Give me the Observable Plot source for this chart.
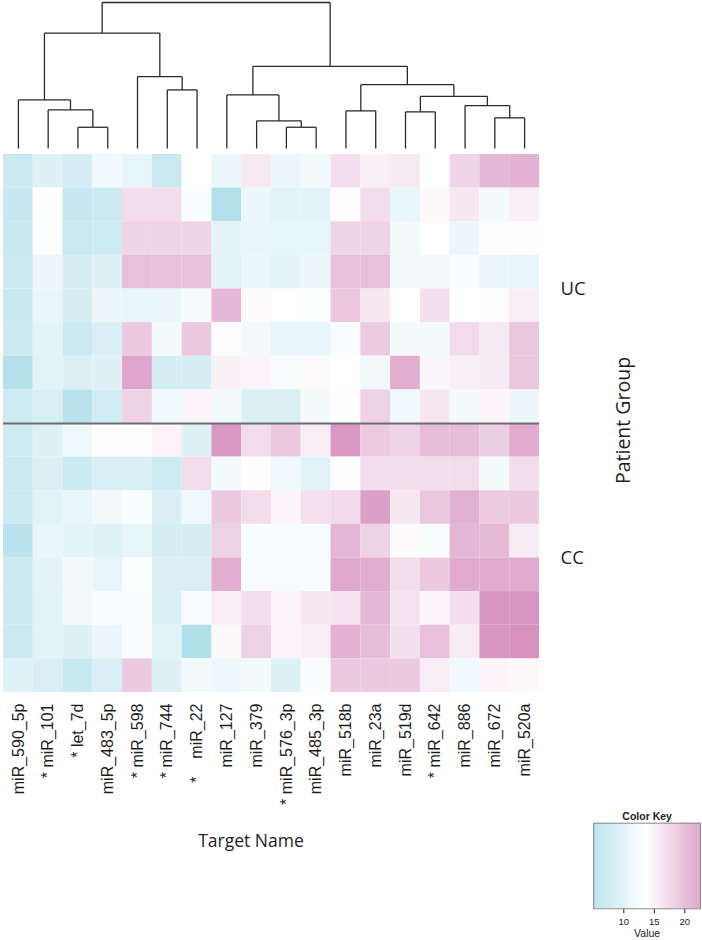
<!DOCTYPE html>
<html><head><meta charset="utf-8">
<script src="https://cdn.jsdelivr.net/npm/d3@7"></script>
<script src="https://cdn.jsdelivr.net/npm/@observablehq/plot@0.6"></script>
<style>
html,body{margin:0;padding:0;background:#fff;}
#root{position:relative;width:702px;height:940px;overflow:hidden;background:#fff;}
#root > *{position:absolute;}
.lbl{font-family:"Open Sans",sans-serif;color:#1e1e1e;line-height:1;white-space:nowrap;}
</style></head><body><div id="root"></div>
<script>
// ---------- data ----------
const targets = ["miR_590_5p","miR_101","let_7d","miR_483_5p","miR_598","miR_744","miR_22","miR_127","miR_379","miR_576_3p","miR_485_3p","miR_518b","miR_23a","miR_519d","miR_642","miR_886","miR_672","miR_520a"];
const tickLabels = ["miR_590_5p","*\u00a0miR_101","*\u00a0let_7d","miR_483_5p","*\u00a0miR_598","*\u00a0miR_744","*\u00a0\u00a0\u00a0\u00a0miR_22","miR_127","miR_379","*\u00a0miR_576_3p","miR_485_3p","miR_518b","miR_23a","miR_519d","*\u00a0miR_642","miR_886","miR_672","miR_520a"];
const groupNames = ["UC","CC"];
const ucValues = [
 [8.5,10.5,9.5,12.3,11.3,8.5,13.9,11.8,15.5, 11.8,12.6,16.2,15.0,15.5,13.8,17.0,19.2,19.6],
 [8.2,14.0,8.2,8.8,16.4,16.4,13.3,6.2,11.8, 11.0,11.0,14.0,16.4,11.5,14.3,15.6,12.8,15.0],
 [8.4,13.4,8.5,8.9,17.0,17.0,17.0,11.0,11.6, 11.3,11.3,17.0,17.0,12.6,13.9,11.8,14.0,14.0],
 [8.6,12.0,9.6,10.5,18.5,18.5,18.5,11.0,11.9, 11.0,11.9,18.5,18.5,12.4,12.7,13.3,11.9,11.6],
 [8.4,11.5,9.6,11.9,11.5,11.9,12.9,19.1,14.1, 13.9,13.5,18.0,15.6,13.8,16.2,13.9,14.0,15.2],
 [8.6,11.0,8.5,10.0,17.8,12.5,17.8,14.0,12.7, 11.6,11.6,13.1,17.7,12.8,12.7,16.5,15.5,18.0],
 [6.4,10.8,10.3,10.5,20.6,9.6,9.6,14.9,14.6, 13.2,14.2,13.9,12.4,19.9,14.4,15.0,15.4,18.0],
 [9.0,9.9,7.0,9.3,17.2,12.3,14.6,12.6,10.2, 10.2,12.8,14.0,17.3,12.2,15.6,12.7,14.5,11.9]
];
const ccValues = [
 [9.0,10.5,12.2,14.0,14.0,14.7,10.5,21.5,16.5, 17.8,15.2,21.5,17.7,17.1,18.8,18.8,17.4,20.0],
 [8.6,10.2,8.7,9.9,9.9,9.0,16.4,12.5,14.0, 12.3,10.9,14.0,16.4,16.4,16.4,16.4,12.7,16.4],
 [8.8,10.9,11.6,12.4,13.3,10.0,12.2,17.8,16.4, 14.5,16.1,16.6,21.0,15.6,18.0,19.7,17.7,17.8],
 [7.0,11.6,11.0,10.6,11.3,9.6,9.6,17.3,13.3, 13.0,13.2,19.3,17.1,14.1,13.3,19.3,19.0,15.3],
 [8.6,11.0,12.4,11.6,13.4,10.0,10.0,19.9,13.2, 13.2,13.3,20.3,19.9,16.3,17.8,20.1,20.1,20.1],
 [8.6,10.9,12.4,13.2,13.2,9.9,13.2,15.2,16.3, 14.6,15.6,15.9,19.1,16.0,14.6,16.3,21.9,21.9],
 [8.6,10.9,10.5,11.8,13.3,10.8,6.0,14.3,17.3, 14.6,15.0,19.6,18.7,16.2,18.5,15.3,21.7,22.0],
 [10.6,10.0,8.4,10.0,17.8,10.4,12.6,12.1,12.6, 10.5,13.3,17.8,17.8,17.8,15.2,12.3,14.6,14.3]
];
// column dendrogram (hclust-style merges: negative = leaf, positive = earlier merge), heights
const dendroMerges = [
 [-3,-4,2.13],[-2,1,3.87],[-1,2,4.87],[-6,-7,5.87],[-5,4,7.20],[3,5,11.57],
 [-10,-11,2.13],[-9,7,2.77],[-8,8,5.37],[-12,-13,3.77],[-14,-15,3.67],[-17,-18,3.07],
 [-16,12,4.30],[11,13,5.23],[10,14,6.40],[9,15,8.23],[6,16,14.63]
];
const keyDomain = [5.08, 22.57];
const keyTicks = [10, 15, 20];
const keyColors = ["#a8dbe8", "#ffffff", "#d48abc"];

// ---------- build ----------
const root = document.getElementById("root");
const groups = [{name: groupNames[0], values: ucValues}, {name: groupNames[1], values: ccValues}];
const cells = [];
let r = 0;
const groupInfo = [];
groups.forEach(g => {
  groupInfo.push({name: g.name, start: r, mid: r + g.values.length / 2});
  g.values.forEach(row => { row.forEach((v, c) => cells.push({row: r, col: c, value: v, group: g.name})); r++; });
});
const nRows = r;
const colorScale = {type: "linear", domain: [keyDomain[0], (keyDomain[0]+keyDomain[1])/2, keyDomain[1]], range: keyColors, interpolate: "rgb"};

const W = 702, L = 3, R = 163;

// dendrogram
const nodes = [];
const pos = id => id < 0 ? {x: -id - 1 + 0.5, h: 0} : nodes[id - 1];
const segs = [];
dendroMerges.forEach(([a, b, h]) => {
  const A = pos(a), B = pos(b);
  segs.push({x1: A.x, y1: A.h, x2: A.x, y2: h}, {x1: B.x, y1: B.h, x2: B.x, y2: h}, {x1: A.x, y1: h, x2: B.x, y2: h});
  nodes.push({x: (A.x + B.x) / 2, h});
});
const dendro = Plot.plot({
  width: W, height: 150, marginLeft: L, marginRight: R, marginTop: 2, marginBottom: 2,
  style: {background: "transparent"},
  x: {domain: [0, targets.length], axis: null},
  y: {domain: [0, d3.max(dendroMerges, d => d[2])], axis: null},
  marks: [Plot.link(segs, {x1: "x1", y1: "y1", x2: "x2", y2: "y2", stroke: "#2a2a2a", strokeWidth: 1.3})]
});
dendro.style.left = "0px"; dendro.style.top = "0px";
root.appendChild(dendro);

// heatmap
const heat = Plot.plot({
  width: W, height: 680, marginLeft: L, marginRight: R, marginTop: 4, marginBottom: 138,
  style: {background: "transparent", fontFamily: "'Liberation Sans', Arial, sans-serif", fontSize: "16px", color: "#1e1e1e"},
  x: {domain: [0, targets.length], ticks: targets.map((d, i) => i + 0.5), tickFormat: v => tickLabels[Math.round(v - 0.5)], tickRotate: -90, tickSize: 0, tickPadding: 11, label: null},
  y: {domain: [0, nRows], reverse: true, axis: null},
  color: colorScale,
  marks: [
    Plot.rect(cells, {x1: "col", x2: d => d.col + 1, y1: "row", y2: d => d.row + 1, fill: "value"}),
    Plot.ruleY(groupInfo.slice(1), {y: "start", stroke: "#6e6e6e", strokeWidth: 2}),
    Plot.text(groupInfo, {y: "mid", text: "name", frameAnchor: "right", dx: 21, textAnchor: "start", fontSize: 18.5, fontFamily: "'Open Sans', sans-serif"}),
    Plot.text(["Patient Group"], {y: () => nRows / 2, text: d => d, frameAnchor: "right", dx: 84, dy: -3, rotate: -90, textAnchor: "middle", fontSize: 19.5, fontFamily: "'Open Sans', sans-serif"})
  ]
});
heat.style.left = "0px"; heat.style.top = "150px";
root.appendChild(heat);

// Target Name label
const tn = document.createElement("div");
tn.className = "lbl";
tn.textContent = "Target Name";
tn.style.cssText += "left:151px;width:200px;text-align:center;top:832px;font-size:17.5px;";
root.appendChild(tn);

// color key
const keyN = 240;
const step = (keyDomain[1] - keyDomain[0]) / keyN;
const keyStops = d3.range(keyN).map(i => keyDomain[0] + i * step);
const key = Plot.plot({
  width: 122, height: 140, marginLeft: 13.3, marginRight: 2, marginTop: 22.7, marginBottom: 31.7,
  style: {background: "transparent", fontFamily: "'Liberation Sans', Arial, sans-serif", fontSize: "9.5px", color: "#222"},
  x: {domain: keyDomain, ticks: keyTicks, tickSize: 5, tickPadding: 4, label: null},
  y: {domain: [0, 1], axis: null},
  color: colorScale,
  marks: [
    Plot.rect(keyStops, {x1: d => d, x2: d => d + step * 1.05, y1: 0, y2: 1, fill: d => d}),
    Plot.frame({stroke: "#8a8a8a"}),
    Plot.text(["Color Key"], {text: d => d, frameAnchor: "top", lineAnchor: "bottom", dy: -3, fontWeight: "bold", fontSize: 10.5}),
    Plot.text(["Value"], {text: d => d, frameAnchor: "bottom", lineAnchor: "top", dy: 21, fontSize: 10.5})
  ]
});
key.style.left = "580px"; key.style.top = "800px";
root.appendChild(key);
</script></body></html>
